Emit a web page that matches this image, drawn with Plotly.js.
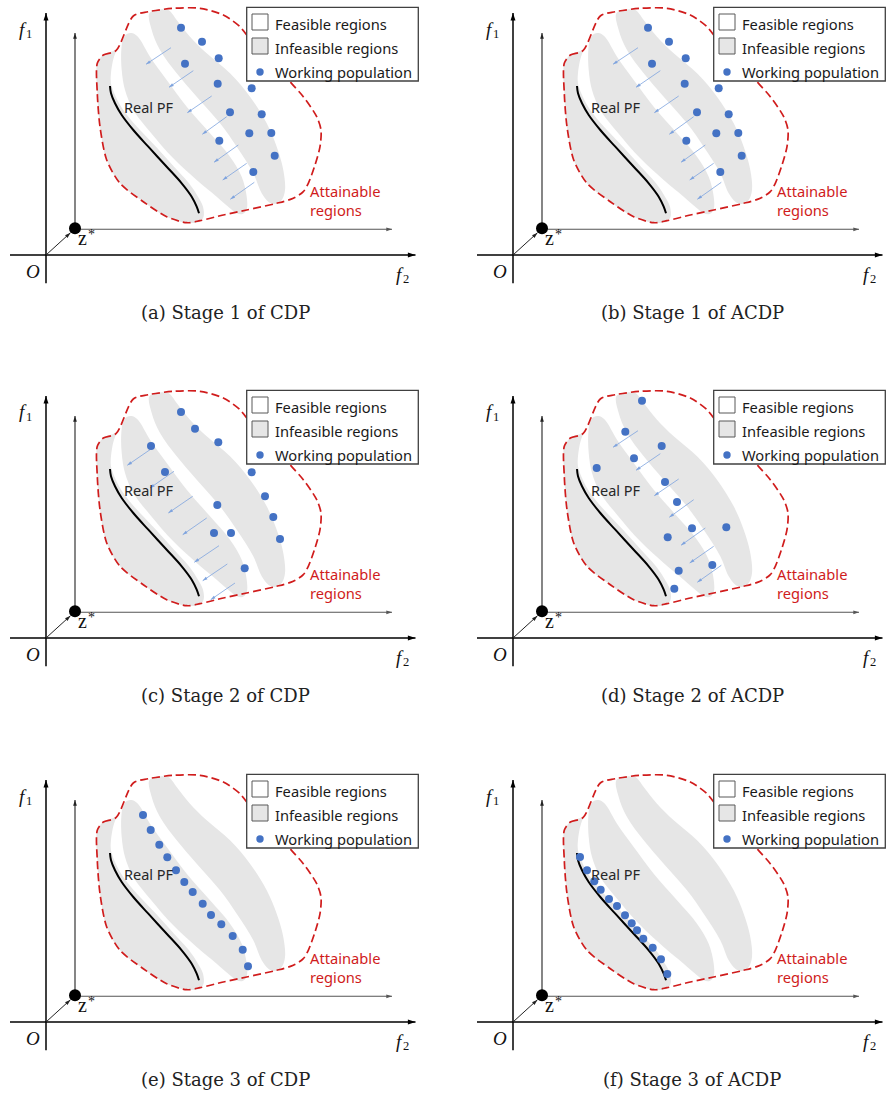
<!DOCTYPE html>
<html><head><meta charset="utf-8">
<script src="https://cdn.plot.ly/plotly-3.0.1.min.js"></script>
<style>html,body{margin:0;padding:0;background:#fff}</style>
</head><body><div id="chart" style="width:888px;height:1096px"></div>
<script>
// ---------------- data (diagram units, origin at O) ----------------
const captions = ["(a) Stage 1 of CDP", "(b) Stage 1 of ACDP", "(c) Stage 2 of CDP",
                  "(d) Stage 2 of ACDP", "(e) Stage 3 of CDP", "(f) Stage 3 of ACDP"];
const legendLabels = ["Feasible regions", "Infeasible regions", "Working population"];
const pfLabel = "Real PF";
const attainLabel = "Attainable<br>regions";
const axisSymbol = "f";
const axisIndex = ["1", "2"];
const originLabel = "O";
const idealLabel = "z";
const idealStar = "*";

// attainable region (red dashed)
const attainX = [51.3, 57.3, 70, 87.3, 102.3, 127.3, 154, 177.3, 194, 200.7, 222, 244, 257.3, 270.7, 275, 274, 269, 262.3, 257.3, 247.3, 230.7, 200.7, 177.3, 154, 140.7, 120.7, 97.3, 74, 60.7, 54, 51.3, 51.3];
const attainY = [191.7, 200, 204.3, 239, 243.3, 246.7, 246.7, 240, 228.3, 220, 198, 173.3, 158.3, 138.3, 125, 108.3, 90, 71.7, 63.3, 56.7, 51.7, 45, 40, 34.3, 32.3, 38.3, 53.3, 71.7, 95, 128.3, 161.7, 191.7];

// infeasible regions (gray)
const inf1X = [70.7, 66.7, 64.7, 66, 73, 81, 94, 110, 128, 143, 152, 157, 157.5, 153, 140.7, 120.7, 97.3, 74, 60.7, 54, 51.3, 51.3, 57.3, 67.3];
const inf1Y = [205.7, 193.3, 175, 167.7, 151.7, 140, 125, 108.3, 88.3, 71.7, 58.3, 48.3, 38, 33, 32.3, 38.3, 53.3, 71.7, 95, 128.3, 161.7, 191.7, 200, 204];
const inf2X = [77.3, 81.3, 86.7, 92.3, 104, 120.7, 140.7, 164, 184, 195.7, 200.7, 200.7, 196.7, 190.7, 184, 170.7, 150.7, 127.3, 104, 87.3, 79, 75.7, 75.3, 77.3];
const inf2Y = [216.7, 221.3, 221.7, 217.7, 198.3, 175, 148.3, 121.7, 98.3, 78.3, 58.3, 45.7, 41, 41.7, 46.7, 58.3, 75, 96.7, 123.3, 145, 165, 185, 205, 216.7];
const inf3X = [103.3, 110.7, 122.3, 130.7, 144, 160.7, 184, 204, 220.7, 230.7, 237.3, 239, 235.7, 229, 222.3, 215.7, 207.3, 190.7, 174, 150.7, 130.7, 114, 105.7, 103.3];
const inf3Y = [241.7, 245, 245, 235, 218.3, 201.7, 181.7, 158.3, 131.7, 108.3, 85, 65, 55, 51, 53.3, 61.7, 81.7, 108.3, 131.7, 158.3, 181.7, 205, 225, 241.7];

// real Pareto front
const pfX = [64, 65, 69, 75.7, 87.3, 102.3, 120.7, 135.7, 145.7, 150.7, 153];
const pfY = [169, 161.7, 151.7, 140, 125, 108.3, 88.3, 71.7, 58.3, 48.3, 41.7];

// working populations
const popStage1X = [135, 156, 172.7, 139, 171.7, 205.7, 184, 215.7, 203.3, 225.3, 173.3, 228.7, 207.3];
const popStage1Y = [227.3, 213.3, 196.7, 191.3, 171.3, 166.7, 142.7, 140.7, 121.7, 122, 114.3, 99.3, 83];
const popCdp2X = [135, 149, 172.3, 105, 119, 205.7, 219, 171.3, 227.3, 168, 185, 234, 198.7];
const popCdp2Y = [226, 209.3, 195.7, 192, 166, 165.7, 141.7, 133, 121, 105, 105, 99, 69.7];
const popAcdp2X = [129, 112.3, 148.7, 121, 83.7, 152, 164, 179, 213.3, 154.7, 199.3, 165.7, 161.3];
const popAcdp2Y = [237.3, 206.3, 192, 179.7, 170, 156, 136, 109.7, 110.7, 100.7, 73, 67.3, 49.3];
const popCdp3X = [97, 104.7, 113.3, 121.3, 130, 138.3, 146.7, 156.7, 165, 175.3, 186.7, 196.7, 202];
const popCdp3Y = [207, 192, 177.3, 164.7, 151.7, 140, 130, 118.3, 107, 97.7, 86, 72.3, 55.7];
const popAcdp3X = [67, 74, 81.3, 87.7, 96, 104, 112, 118.7, 124, 130.3, 139.7, 148, 154.3];
const popAcdp3Y = [165, 151.7, 140.7, 132.3, 123, 116, 106.7, 98.7, 91.7, 83.3, 74.3, 62.7, 48];

// search-direction arrows (tail -> head)
const arrS1TailX = [125, 147.3, 165.7, 180.7, 192.3, 200.7, 208.3];
const arrS1TailY = [207.3, 184.3, 159, 138.3, 110, 91.7, 72.7];
const arrS1HeadX = [100, 123, 141.3, 156.3, 168, 176.7, 184.3];
const arrS1HeadY = [190.7, 167.7, 142.3, 120.7, 92.7, 75, 55.7];
const arrC2TailX = [104, 128, 146.7, 160.7, 173, 181.3, 189];
const arrC2TailY = [188.3, 166.7, 141.7, 120, 92.3, 74, 55];
const arrC2HeadX = [81.3, 104, 122.3, 136.7, 148.3, 156.7, 164.7];
const arrC2HeadY = [172.7, 150, 125, 103.3, 75.7, 57.3, 38.3];

// ideal point z*
const idealX = [29];
const idealY = [26.7];

// ---------------- panels ----------------
const panels = [
  {px: popStage1X, py: popStage1Y, arr: [arrS1TailX, arrS1TailY, arrS1HeadX, arrS1HeadY]},
  {px: popStage1X, py: popStage1Y, arr: [arrS1TailX, arrS1TailY, arrS1HeadX, arrS1HeadY]},
  {px: popCdp2X, py: popCdp2Y, arr: [arrC2TailX, arrC2TailY, arrC2HeadX, arrC2HeadY]},
  {px: popAcdp2X, py: popAcdp2Y, arr: [arrS1TailX, arrS1TailY, arrS1HeadX, arrS1HeadY]},
  {px: popCdp3X, py: popCdp3Y, arr: null},
  {px: popAcdp3X, py: popAcdp3Y, arr: null}
];

const W = 888, H = 1096;
const colPx = [[0, 440, 46], [440, 888, 513]];          // left, right, origin x (px)
const rowPx = [[0, 360, 255], [360, 745, 638], [745, 1096, 1022]]; // top, bottom, origin y (px)

const GRAY = '#e6e6e6', BLUE = '#4472c4', RED = '#d01c1c', ARROW = '#7ea3de';
const sans = 'Noto Sans, Arial, sans-serif';
const serif = 'DejaVu Serif, serif';
const mathSerif = 'Liberation Serif, serif';

const traces = [], shapes = [], annotations = [];
const layout = {
  width: W, height: H, margin: {l: 0, r: 0, t: 0, b: 0},
  paper_bgcolor: '#ffffff', plot_bgcolor: 'rgba(0,0,0,0)', showlegend: false,
  hovermode: false
};

panels.forEach((p, i) => {
  const id = i === 0 ? '' : String(i + 1);
  const xa = 'x' + id, ya = 'y' + id;
  const col = colPx[i % 2], row = rowPx[Math.floor(i / 2)];
  layout['xaxis' + id] = {domain: [col[0] / W, col[1] / W], range: [col[0] - col[2], col[1] - col[2]],
    visible: false, fixedrange: true, anchor: ya};
  layout['yaxis' + id] = {domain: [1 - row[1] / H, 1 - row[0] / H], range: [row[2] - row[1], row[2] - row[0]],
    visible: false, fixedrange: true, anchor: xa};

  // arrow = line + rotated arrow-head marker (1 data unit == 1 px on both axes)
  const arrow = (x0, y0, x1, y1, w, c, sz) => {
    const ang = Math.atan2(x1 - x0, y1 - y0) * 180 / Math.PI;
    traces.push({x: [x0, x1], y: [y0, y1], xaxis: xa, yaxis: ya,
      type: 'scatter', mode: 'lines', line: {color: c, width: w}});
    traces.push({x: [x1], y: [y1], xaxis: xa, yaxis: ya, type: 'scatter', mode: 'markers',
      marker: {symbol: 'arrow', size: sz, angle: ang, color: c, line: {width: 0}}});
  };

  // infeasible regions
  [[inf1X, inf1Y], [inf2X, inf2Y], [inf3X, inf3Y]].forEach(r => {
    traces.push({x: r[0], y: r[1], xaxis: xa, yaxis: ya, type: 'scatter', mode: 'lines',
      fill: 'toself', fillcolor: GRAY, line: {width: 0, shape: 'spline', smoothing: 1, color: GRAY}});
  });
  // real PF
  traces.push({x: pfX, y: pfY, xaxis: xa, yaxis: ya, type: 'scatter', mode: 'lines',
    line: {color: '#000000', width: 2, shape: 'spline', smoothing: 1}});
  // attainable boundary
  traces.push({x: attainX, y: attainY, xaxis: xa, yaxis: ya, type: 'scatter', mode: 'lines',
    line: {color: RED, width: 1.7, dash: '8px,4px', shape: 'spline', smoothing: 0.8}});

  // coordinate axes
  arrow(0, -28.3, 0, 242, 1.5, '#000000', 8);
  arrow(-36, 0, 369.5, 0, 1.5, '#000000', 8);
  arrow(idealX[0], idealY[0], idealX[0], 222, 1.1, '#222222', 6);
  arrow(idealX[0], idealY[0] - 1, 346, idealY[0] - 1, 1.1, '#555555', 6);
  arrow(0, 0, 24.5, 22.3, 1.0, '#222222', 6);

  // search arrows
  if (p.arr) {
    for (let k = 0; k < p.arr[0].length; k++) {
      arrow(p.arr[0][k], p.arr[1][k], p.arr[2][k], p.arr[3][k], 0.8, ARROW, 5);
    }
  }
  // population
  traces.push({x: p.px, y: p.py, xaxis: xa, yaxis: ya, type: 'scatter', mode: 'markers',
    marker: {color: BLUE, size: 8, line: {width: 0}}});
  // ideal point
  traces.push({x: idealX, y: idealY, xaxis: xa, yaxis: ya, type: 'scatter', mode: 'markers',
    marker: {color: '#000000', size: 12, line: {width: 0}}});

  // texts
  const txt = (x, y, t, font, xanchor, extra) => annotations.push(Object.assign({xref: xa, yref: ya,
    x: x, y: y, text: t, showarrow: false, font: font, xanchor: xanchor || 'center', yanchor: 'middle'}, extra || {}));
  const mathIt = {family: mathSerif, size: 19, color: '#111', style: 'italic'};
  const mathSub = {family: mathSerif, size: 12.5, color: '#111'};
  txt(-23, 226, axisSymbol, mathIt);
  txt(-17, 221, axisIndex[0], mathSub);
  txt(354, -19, axisSymbol, mathIt);
  txt(360, -24, axisIndex[1], mathSub);
  txt(-13.5, -16, originLabel, mathIt);
  txt(36.5, 17, idealLabel, {family: mathSerif, size: 20, color: '#111'});
  txt(45, 21, idealStar, {family: mathSerif, size: 14, color: '#111'});
  txt(76, 148, pfLabel, {family: sans, size: 14.5, color: '#262626'}, 'left');
  txt(262, 55, attainLabel, {family: sans, size: 14.7, color: RED}, 'left', {align: 'left'});
  txt(179, -57, captions[i], {family: serif, size: 18, color: '#222'});

  // legend box
  shapes.push({type: 'rect', xref: xa, yref: ya, x0: 200.7, x1: 372.3, y0: 174, y1: 247.7,
    fillcolor: '#ffffff', line: {color: '#404040', width: 1.3}, layer: 'above'});
  shapes.push({type: 'rect', xref: xa, yref: ya, x0: 206, x1: 222, y0: 225, y1: 241,
    fillcolor: '#ffffff', line: {color: '#595959', width: 1}, layer: 'above'});
  shapes.push({type: 'rect', xref: xa, yref: ya, x0: 206, x1: 222, y0: 201, y1: 217,
    fillcolor: GRAY, line: {color: '#595959', width: 1}, layer: 'above'});
  shapes.push({type: 'circle', xref: xa, yref: ya, x0: 210.3, x1: 217.7, y0: 179.3, y1: 186.7,
    fillcolor: BLUE, line: {width: 0}, layer: 'above'});
  [231, 207, 183].forEach((yy, k) => txt(227, yy, legendLabels[k], {family: sans, size: 14.7, color: '#1a1a1a'}, 'left'));
});

layout.shapes = shapes;
layout.annotations = annotations;
Plotly.newPlot('chart', traces, layout, {staticPlot: true, displayModeBar: false});
</script>
</body></html>
